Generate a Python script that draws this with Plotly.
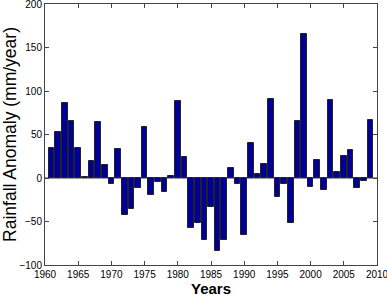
import plotly.graph_objects as go

years = list(range(1961, 2010))
anomaly = [34, 52.5, 86, 65, 34, 1, 19.5, 64, 15, -7,
           33, -43, -36, -11.5, 59, -19, -5, -16.5, 2.7, 89,
           24, -57, -52, -71, -33, -84, -71, 11.5, -7, -65,
           40.6, 4.4, 15.7, 91, -22, -7, -52, 65, 165, -10,
           21, -14, 89.6, 7, 25.7, 32, -11, -3, 66.6]

x_ticks = list(range(1960, 2011, 5))
y_ticks = list(range(-100, 201, 50))

fig = go.Figure(go.Bar(
    x=years, y=anomaly, width=0.85,
    marker=dict(color="#000099", line=dict(color="#222222", width=1)),
))

axis_common = dict(
    showgrid=False, zeroline=False, showline=True, linecolor="#444444",
    linewidth=1, mirror="ticks", ticks="inside", ticklen=4, tickcolor="#444444",
    automargin=False, ticklabeloverflow="allow",
    tickfont=dict(family="Liberation Sans, Arial", size=10, color="#000000"),
)

fig.update_layout(
    width=387, height=298,
    margin=dict(l=45, r=10, t=4, b=33),
    paper_bgcolor="white", plot_bgcolor="white",
    showlegend=False,
    bargap=0,
    xaxis=dict(range=[1960, 2010], tickvals=x_ticks, **axis_common,
               title=dict(text="<b>Years</b>", standoff=3,
                          font=dict(family="Liberation Sans, Arial", size=15, color="#000000"))),
    yaxis=dict(range=[-100, 200], tickvals=y_ticks, **axis_common,
               title=dict(text="Rainfall Anomaly (mm/year)", standoff=2,
                          font=dict(family="Liberation Sans, Arial", size=17.5, color="#000000"))),
    shapes=[dict(type="line", xref="x", yref="y", x0=1960, x1=2010, y0=0, y1=0,
                 line=dict(color="#333333", width=1), layer="below")],
)

fig.write_html("out.html", config={"displayModeBar": False},
               post_script="document.body.style.margin='0';document.body.style.padding='0';")
